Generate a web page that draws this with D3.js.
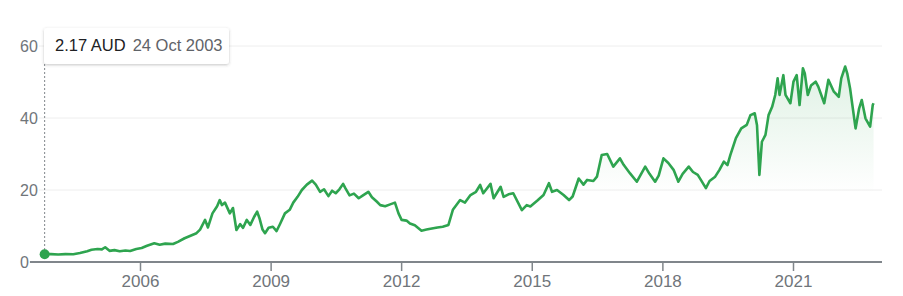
<!DOCTYPE html>
<html>
<head>
<meta charset="utf-8">
<script src="https://cdn.jsdelivr.net/npm/d3@7"></script>
<style>
  html, body { margin: 0; padding: 0; background: #fff; }
  svg { display: block; font-family: "Liberation Sans", Arial, sans-serif; }
</style>
</head>
<body>
<svg id="chart" width="903" height="296"></svg>
<script>
// price readings (AUD)
var dates = [
  "2003-10-24","2003-12-15","2004-02-15","2004-04-15","2004-06-20","2004-08-15","2004-10-15","2004-11-20",
  "2005-01-10","2005-02-15","2005-03-15","2005-04-20","2005-06-01","2005-07-15","2005-09-01","2005-10-10","2005-12-01",
  "2006-01-15","2006-03-01","2006-05-01","2006-06-15","2006-08-01","2006-10-05","2006-11-15",
  "2007-01-10","2007-03-01","2007-04-20","2007-05-20","2007-07-01","2007-07-25","2007-09-01","2007-10-10","2007-11-01","2007-11-20","2007-12-15",
  "2008-01-25","2008-02-20","2008-03-20","2008-04-20","2008-05-15","2008-06-15","2008-07-15","2008-08-15","2008-09-10","2008-10-01","2008-10-25","2008-11-15","2008-12-15",
  "2009-01-20","2009-02-20","2009-03-20","2009-05-01","2009-06-10","2009-07-10","2009-08-15","2009-09-20","2009-11-01","2009-12-15",
  "2010-01-15","2010-02-20","2010-03-25","2010-05-01","2010-06-01","2010-07-01","2010-08-01","2010-09-01","2010-09-20","2010-10-25","2010-12-01",
  "2011-01-10","2011-02-15","2011-04-01","2011-05-01","2011-06-10","2011-07-10","2011-08-20","2011-10-01","2011-11-10","2011-12-10",
  "2012-01-05","2012-02-15","2012-03-15","2012-04-25","2012-06-20","2012-08-01","2012-09-15","2012-11-01","2012-12-15",
  "2013-02-01","2013-03-10","2013-05-10","2013-06-20","2013-08-05","2013-09-20","2013-10-25","2013-11-20",
  "2014-01-20","2014-02-15","2014-04-15","2014-05-10","2014-06-20","2014-07-30","2014-10-10","2014-11-20","2014-12-20",
  "2015-02-15","2015-04-10","2015-05-25","2015-06-20","2015-08-01","2015-09-25","2015-11-10","2015-12-10",
  "2016-01-30","2016-03-10","2016-04-10","2016-06-01","2016-07-01","2016-08-10","2016-09-25","2016-11-15",
  "2017-01-10","2017-02-10","2017-04-05","2017-06-01","2017-08-10","2017-09-15","2017-11-01","2017-12-01",
  "2018-01-10","2018-02-20","2018-04-05","2018-05-15","2018-06-20","2018-08-10","2018-09-15","2018-10-25","2018-11-20",
  "2019-01-01","2019-02-01","2019-03-20","2019-04-25","2019-06-01","2019-07-01","2019-07-25","2019-09-10","2019-10-25","2019-12-10",
  "2020-01-10","2020-02-15","2020-03-05","2020-03-25","2020-04-15","2020-05-15","2020-06-10","2020-07-10","2020-08-05","2020-08-25","2020-09-10","2020-10-12","2020-10-30","2020-12-10",
  "2021-01-05","2021-02-01","2021-02-25","2021-03-25","2021-04-10","2021-05-05","2021-06-01","2021-07-10","2021-08-01","2021-09-20","2021-10-25","2021-12-10",
  "2022-01-20","2022-02-10","2022-03-15","2022-04-01","2022-04-25","2022-06-10","2022-07-10","2022-08-01","2022-09-01","2022-10-10","2022-11-01","2022-11-08"
];
var prices = [
  2.17,2.2,2.1,2.2,2.15,2.5,3.0,3.4,
  3.6,3.5,4.1,3.1,3.3,3.0,3.2,3.05,3.6,
  3.9,4.5,5.2,4.8,5.1,5.0,5.6,
  6.6,7.3,8.0,9.0,11.7,9.6,13.5,15.5,17.2,15.8,16.5,
  13.5,15,8.9,10.5,9.5,11.7,10.3,12.5,14.0,12,9.0,8.0,9.5,
  9.8,8.6,10.5,13.5,14.5,16.5,18.1,20.0,21.5,22.6,
  21.5,19.5,20.2,18.3,19.8,19.1,20.2,21.7,20.5,18.5,19.0,
  17.7,18.5,19.5,18.0,16.8,15.8,15.5,16.0,16.5,13.5,
  11.7,11.5,10.7,10.2,8.7,9.0,9.3,9.6,9.8,
  10.3,14.5,17.2,16.5,18.6,19.5,21.4,19.1,
  21.7,17.7,20.9,18.1,18.8,19.1,14.4,15.8,15.4,
  17.0,18.6,21.9,19.5,20.0,18.6,17.2,18.2,
  23.2,21.5,22.8,22.5,23.7,29.7,30.0,26.5,
  28.8,27.0,24.6,22.3,26.5,24.5,22.3,24.0,
  28.8,27.5,25.6,22.3,24.5,26.5,25.0,24.2,22.8,
  20.5,22.5,23.7,25.6,27.9,26.9,29.7,34.4,37.1,38.1,
  40.8,41.3,38,24.2,33.4,35.3,40.8,43.1,46.4,51.0,46.4,51.9,46.4,44.1,
  50.1,51.9,43.6,53.8,52.4,46.4,49.0,50.1,48.7,44.1,50.6,47.3,
  45.9,51.0,54.3,52.4,48.2,37.1,42.7,45.0,39.9,37.6,43.6,44.1
];
var yTicks = [0, 20, 40, 60];
var xTickYears = [2006, 2009, 2012, 2015, 2018, 2021];
var tipPrice = "2.17 AUD", tipDate = "24 Oct 2003";

var parse = d3.timeParse("%Y-%m-%d");
var data = dates.map(function(d, i) { return { date: parse(d), v: prices[i] }; });

var svg = d3.select("#chart");
var green = "#2ea44f";

var x = d3.scaleTime()
    .domain([new Date(2006, 0, 1), new Date(2021, 0, 1)])
    .range([140, 793]);
var y = d3.scaleLinear().domain([0, 60]).range([262, 46]);

// gradient under the line
var defs = svg.append("defs");
var grad = defs.append("linearGradient")
    .attr("id", "fillGrad")
    .attr("gradientUnits", "userSpaceOnUse")
    .attr("x1", 0).attr("x2", 0)
    .attr("y1", y(56)).attr("y2", y(19));
grad.append("stop").attr("offset", 0).attr("stop-color", green).attr("stop-opacity", 0.16);
grad.append("stop").attr("offset", 1).attr("stop-color", green).attr("stop-opacity", 0);

// y labels + grid lines
var yg = svg.append("g");
yTicks.forEach(function(t) {
  var lab = yg.append("text")
      .attr("x", 20).attr("y", y(t))
      .attr("dy", "0.35em")
      .attr("fill", "#70757a")
      .style("font-size", "16px")
      .text(t);
  var w = lab.node().getComputedTextLength();
  yg.append("line")
      .attr("x1", 20 + w + 1).attr("x2", 882)
      .attr("y1", y(t)).attr("y2", y(t))
      .attr("stroke", t === 0 ? "#80868b" : "#eeeeee")
      .attr("stroke-width", t === 0 ? 2 : 1);
});

// x axis
var xAxis = d3.axisBottom(x)
    .tickValues(xTickYears.map(function(yr) { return new Date(yr, 0, 1); }))
    .tickFormat(d3.timeFormat("%Y"))
    .tickSize(9)
    .tickPadding(4);
var xg = svg.append("g").attr("transform", "translate(0," + y(0) + ")").call(xAxis);
xg.select(".domain").remove();
xg.selectAll(".tick line").attr("stroke", "#80868b").attr("stroke-width", 1.5);
xg.selectAll(".tick text")
    .attr("fill", "#70757a")
    .style("font-size", "17px")
    .style("font-family", "'Liberation Sans', Arial, sans-serif");

// area + line
var area = d3.area()
    .x(function(d) { return x(d.date); })
    .y0(y(0))
    .y1(function(d) { return y(d.v); });
svg.append("path").datum(data).attr("d", area).attr("fill", "url(#fillGrad)");

var line = d3.line()
    .x(function(d) { return x(d.date); })
    .y(function(d) { return y(d.v); });
svg.append("path").datum(data)
    .attr("d", line)
    .attr("fill", "none")
    .attr("stroke", green)
    .attr("stroke-width", 2.6)
    .attr("stroke-linejoin", "round");

// hover marker
var first = data[0];
var px = x(first.date), py = y(first.v);
svg.append("line")
    .attr("x1", px).attr("x2", px)
    .attr("y1", 64).attr("y2", py)
    .attr("stroke", "#80868b")
    .attr("stroke-dasharray", "2,2")
    .attr("stroke-width", 1);
svg.append("circle").attr("cx", px).attr("cy", py).attr("r", 5).attr("fill", green);

// tooltip
var filt = defs.append("filter").attr("id", "shadow")
    .attr("x", "-10%").attr("y", "-30%").attr("width", "120%").attr("height", "180%");
filt.append("feDropShadow")
    .attr("dx", 0).attr("dy", 1).attr("stdDeviation", 1.5)
    .attr("flood-color", "#3c4043").attr("flood-opacity", 0.3);
var tip = svg.append("g");
tip.append("rect")
    .attr("x", 44).attr("y", 28).attr("width", 185).attr("height", 36)
    .attr("rx", 3).attr("fill", "#fff")
    .attr("filter", "url(#shadow)");
var tt = tip.append("text").attr("x", 55).attr("y", 51).style("font-size", "16.5px");
tt.append("tspan").attr("fill", "#202124").text(tipPrice);
tt.append("tspan").attr("fill", "#5f6368").attr("dx", 7).text(tipDate);
</script>
</body>
</html>
